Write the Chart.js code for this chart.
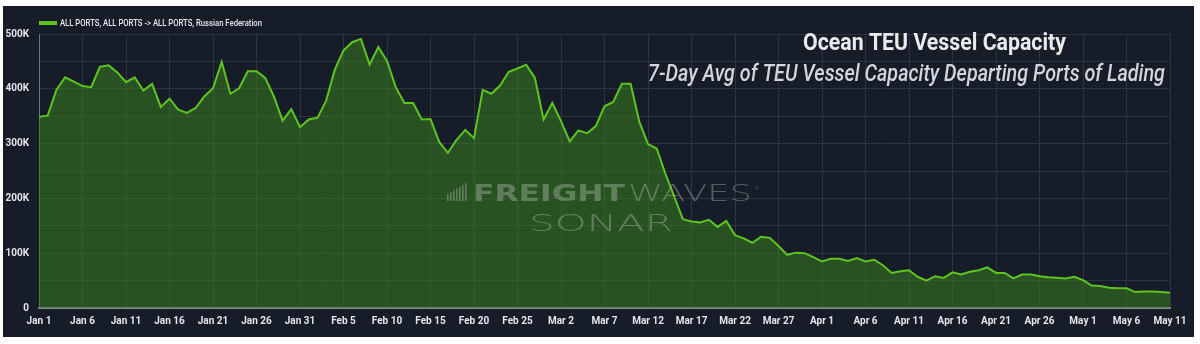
<!DOCTYPE html>
<html>
<head>
<meta charset="utf-8">
<script src="https://cdn.jsdelivr.net/npm/chart.js@4.4.1/dist/chart.umd.min.js"></script>
<style>
  html, body { margin: 0; padding: 0; background: #ffffff; }
  #panel { position: absolute; left: 3px; top: 6px; width: 1191px; height: 331px; background: #161d29; }
</style>
</head>
<body>
<div id="panel"><canvas id="chart"></canvas></div>
<script>
// 7-day avg TEU capacity (thousands), one value per day from Jan 1 to May 11
const teuThousands = [
  349, 351, 398, 421, 413, 405, 403, 440, 443, 430,
  412, 421, 397, 409, 367, 382, 362, 356, 365, 386,
  401, 449, 391, 401, 432, 432, 420, 386, 342, 363,
  330, 344, 347, 378, 435, 470, 485, 491, 444, 476,
  451, 403, 374, 374, 344, 345, 303, 283, 307, 325,
  310, 398, 391, 406, 431, 437, 444, 420, 344, 374,
  341, 304, 324, 319, 332, 368, 376, 409, 409, 340,
  299, 291, 245, 204, 162, 158, 156, 161, 148, 159,
  133, 127, 119, 130, 128, 113, 97, 101, 100, 93,
  85, 90, 90, 86, 91, 85, 88, 78, 64, 67,
  69, 57, 50, 58, 55, 65, 61, 66, 69, 74,
  64, 64, 54, 61, 61, 58, 56, 55, 54, 57,
  51, 41, 40, 37, 36, 36, 29, 30, 30, 29,
  28
];

// one label every 5 days
const tickLabels = [
  'Jan 1', 'Jan 6', 'Jan 11', 'Jan 16', 'Jan 21', 'Jan 26', 'Jan 31',
  'Feb 5', 'Feb 10', 'Feb 15', 'Feb 20', 'Feb 25', 'Mar 2', 'Mar 7',
  'Mar 12', 'Mar 17', 'Mar 22', 'Mar 27', 'Apr 1', 'Apr 6', 'Apr 11',
  'Apr 16', 'Apr 21', 'Apr 26', 'May 1', 'May 6', 'May 11'
];

const seriesName = 'ALL PORTS, ALL PORTS -> ALL PORTS, Russian Federation';
const titleText = 'Ocean TEU Vessel Capacity';
const subtitleText = '7-Day Avg of TEU Vessel Capacity Departing Ports of Lading';

const lineGreen = '#5ec41f';
const gridColor = '#2c3442';

// draw text squeezed horizontally so it spans a given width
function fitText(ctx, text, x, y, width) {
  const sx = width / ctx.measureText(text).width;
  ctx.save();
  ctx.translate(x, y);
  ctx.scale(sx, 1);
  ctx.textAlign = 'left';
  ctx.fillText(text, 0, 0);
  ctx.restore();
}

const overlay = {
  id: 'overlay',
  afterDatasetsDraw(chart) {
    const ctx = chart.ctx;
    ctx.save();
    // watermark
    ctx.fillStyle = 'rgba(180,190,180,0.4)';
    for (let i = 0; i < 7; i++) {
      const h = 7 + i * 1.8;
      ctx.fillRect(444 + i * 3, 195 - h, 1.6, h);
    }
    ctx.textBaseline = 'alphabetic';
    ctx.font = 'bold 23px "DejaVu Sans"';
    fitText(ctx, 'FREIGHT', 470, 195, 152);
    ctx.font = '200 23px "DejaVu Sans"';
    fitText(ctx, 'WAVES', 625, 195, 124);
    ctx.font = '200 6px "DejaVu Sans"';
    ctx.fillText('\u00AE', 751, 184);
    ctx.font = '200 23px "DejaVu Sans"';
    fitText(ctx, 'SONAR', 526, 225, 144);
    ctx.restore();
  },
  afterDraw(chart) {
    const ctx = chart.ctx;
    ctx.save();
    // legend
    ctx.fillStyle = lineGreen;
    ctx.fillRect(36, 15, 18, 4);
    ctx.fillStyle = '#e6e8ea';
    ctx.font = '500 9px Roboto';
    fitText(ctx, seriesName, 57, 20, 202);
    // titles
    ctx.fillStyle = '#e9eaec';
    ctx.font = 'bold 23px Roboto';
    fitText(ctx, titleText, 800, 44, 263);
    ctx.fillStyle = '#d2d5da';
    ctx.font = 'italic 500 23px Roboto';
    fitText(ctx, subtitleText, 645, 75, 517);
    ctx.restore();
  }
};

new Chart(document.getElementById('chart'), {
  type: 'line',
  data: {
    datasets: [{
      label: seriesName,
      data: teuThousands.map((v, i) => ({ x: i, y: v })),
      borderColor: lineGreen,
      borderWidth: 2,
      backgroundColor: 'rgba(60,132,28,0.52)',
      fill: 'origin',
      pointRadius: 0,
      tension: 0
    }]
  },
  options: {
    responsive: true,
    maintainAspectRatio: false,
    animation: false,
    layout: { padding: { left: 0, top: 28, right: 24, bottom: 0 } },
    plugins: { legend: { display: false }, tooltip: { enabled: false } },
    scales: {
      x: {
        type: 'linear',
        min: 0,
        max: teuThousands.length - 1,
        afterFit: (s) => { s.height = 29; },
        ticks: {
          stepSize: 5,
          autoSkip: false,
          maxRotation: 0,
          padding: 7,
          color: '#e3e5e8',
          font: { family: 'Roboto', size: 10, weight: 'bold' },
          callback: (v) => tickLabels[v / 5]
        },
        grid: { color: gridColor, drawTicks: false },
        border: { color: '#7f868e', width: 2 }
      },
      y: {
        min: 0,
        max: 500,
        afterFit: (s) => { s.width = 36; },
        ticks: {
          stepSize: 50,
          padding: 10,
          color: '#e3e5e8',
          font: { family: 'Roboto', size: 10, weight: 'bold' },
          callback: (v) => v % 100 === 0 ? (v === 0 ? '0' : v + 'K') : ''
        },
        grid: { color: gridColor, drawTicks: false },
        border: { color: '#6f767e', width: 1 }
      }
    }
  },
  plugins: [overlay]
});
</script>
</body>
</html>
